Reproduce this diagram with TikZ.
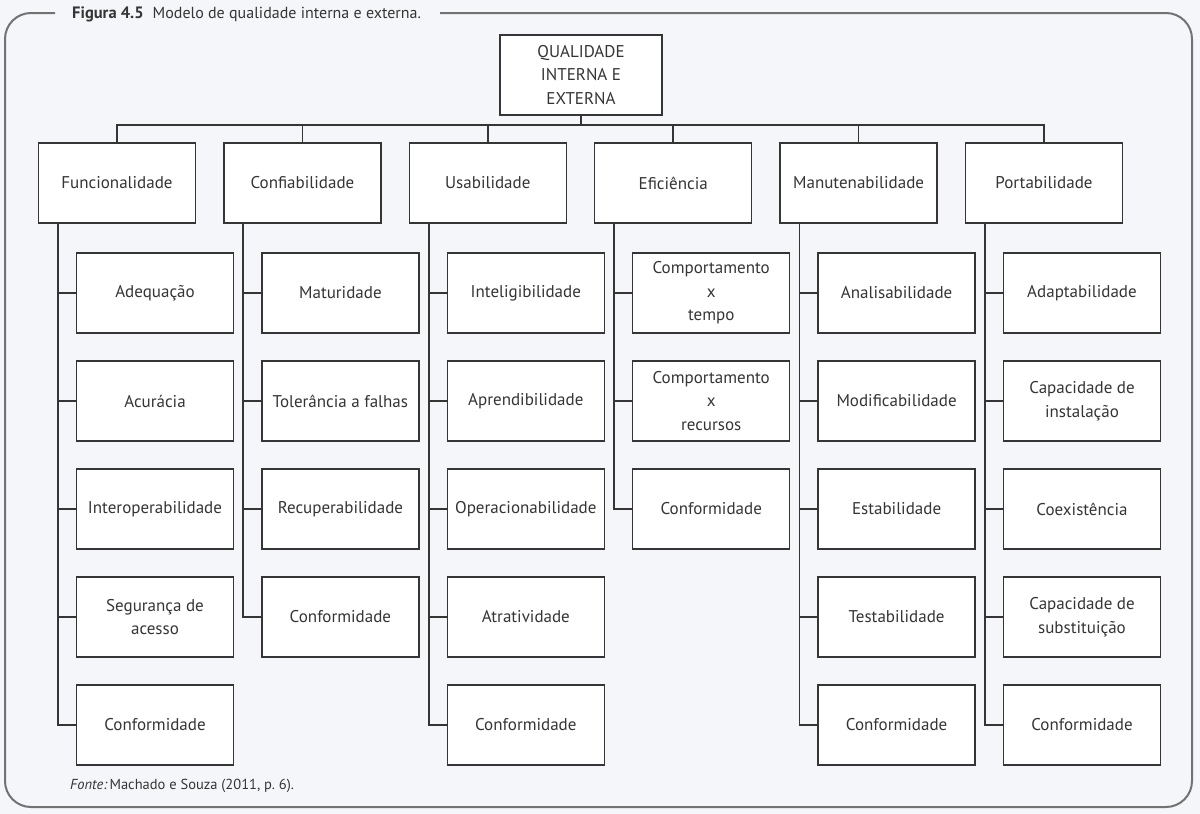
\documentclass[tikz,border=0pt]{standalone}
\usepackage{fontspec}
\setmainfont{PT Sans}
\definecolor{pagebg}{HTML}{F5F6FA}
\definecolor{framegray}{HTML}{727272}
\definecolor{ink}{HTML}{353535}

\begin{document}
\begin{tikzpicture}[x=1pt, y=-1pt,
   box/.style={draw=ink, line width=1.3pt, fill=white, minimum width=157pt,
     minimum height=80pt, align=center, inner sep=2pt, text=ink,
     font=\fontsize{17}{23.5}\selectfont},
   link/.style={ink, line width=1.7pt}]
   \fill[pagebg] (0,0) rectangle (1200,814);
   \useasboundingbox (0,0) rectangle (1200,814);
   % frame, open where the caption sits
   \draw[framegray, line width=2pt, rounded corners=26pt]
     (55,13) -- (5,13) -- (5,807) -- (1192,807) -- (1192,13) -- (440,13);
   \node[anchor=base west, inner sep=0pt, text=ink, font=\fontsize{16}{18}\selectfont]
     (caption) at (72,18) {\textbf{\fontsize{16.5}{18}\selectfont Figura 4.5}\hspace{9pt}Modelo de qualidade interna e externa.};
   \node[anchor=base west, inner sep=0pt, text=ink, font=\fontsize{14.5}{17}\selectfont]
     (fonte) at (70,789) {\textit{Fonte:}\hspace{2pt}Machado e Souza (2011, p.~6).};
   \node[box, minimum width=162pt] (qual) at (581,75) {QUALIDADE\\INTERNA E\\EXTERNA};
   \coordinate (bus) at (581,125);
   \foreach \nm/\txt [count=\c from 0] in
     {func/Funcionalidade, conf/Confiabilidade, usab/Usabilidade,
      efic/Eficiência, manu/Manutenabilidade, port/Portabilidade}
   {
     \node[box] (\nm) at (117+185.4*\c,183) {\txt};
     \draw[link] (\nm.north) |- (bus) -- (qual.south);
     \coordinate (\nm-s) at ([xshift=20pt]\nm.south west);
   }
   % second level
   \foreach \kid [count=\r] in {Adequação, Acurácia, Interoperabilidade, {Segurança de\\acesso}, Conformidade}
     \node[box] (func-\r) at ([shift={(38,2+108*\r)}]func.center) {\kid};
   \foreach \kid [count=\r] in {Maturidade, Tolerância a falhas, Recuperabilidade, Conformidade}
     \node[box] (conf-\r) at ([shift={(38,2+108*\r)}]conf.center) {\kid};
   \foreach \kid [count=\r] in {Inteligibilidade, Aprendibilidade, Operacionabilidade, Atratividade, Conformidade}
     \node[box] (usab-\r) at ([shift={(38,2+108*\r)}]usab.center) {\kid};
   \foreach \kid [count=\r] in {{Comportamento\\x\\tempo}, {Comportamento\\x\\recursos}, Conformidade}
     \node[box] (efic-\r) at ([shift={(38,2+108*\r)}]efic.center) {\kid};
   \foreach \kid [count=\r] in {Analisabilidade, Modificabilidade, Estabilidade, Testabilidade, Conformidade}
     \node[box] (manu-\r) at ([shift={(38,2+108*\r)}]manu.center) {\kid};
   \foreach \kid [count=\r] in {Adaptabilidade, {Capacidade de\\instalação}, Coexistência, {Capacidade de\\substituição}, Conformidade}
     \node[box] (port-\r) at ([shift={(38,2+108*\r)}]port.center) {\kid};
   \foreach \nm/\n in {func/5, conf/4, usab/5, efic/3, manu/5, port/5}
     \foreach \r in {1,...,\n}
       \draw[link] (\nm-s) |- (\nm-\r.west);
\end{tikzpicture}
\end{document}
